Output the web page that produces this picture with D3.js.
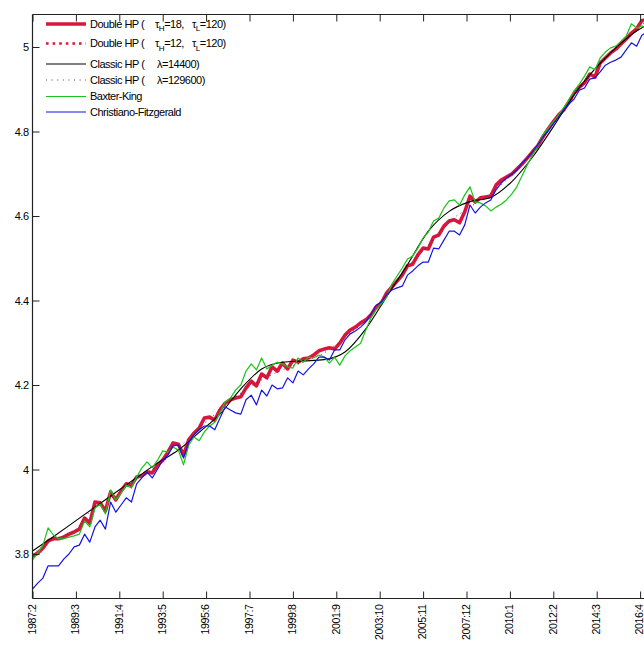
<!DOCTYPE html>
<html>
<head>
<meta charset="utf-8">
<script src="https://cdn.jsdelivr.net/npm/d3@7"></script>
<style>
  body { margin: 0; background: #fff; }
  text { font-family: "Liberation Sans", Arial, sans-serif; }
</style>
</head>
<body>
<svg id="chart" width="644" height="645"></svg>
<script>
// Time axis: month offsets from 1987:2, labelled every 25 months
const tickMonths = [0, 25, 50, 75, 100, 125, 150, 175, 200, 225, 250, 275, 300, 325, 350];
const tickLabels = ["1987:2", "1989:3", "1991:4", "1993:5", "1995:6", "1997:7", "1999:8", "2001:9",
                    "2003:10", "2005:11", "2007:12", "2010:1", "2012:2", "2014:3", "2016:4"];
const yTicks = [3.8, 4, 4.2, 4.4, 4.6, 4.8, 5];
const yTickLabels = ["3.8", "4", "4.2", "4.4", "4.6", "4.8", "5"];

// Quarterly sampling grid (months since 1987:2)
const quarterMonths = d3.range(0, 355, 3);
// Annual sampling grid for the smooth trends
const yearMonths = d3.range(0, 361, 12);

// Double HP (tau_H = 18, tau_L = 120)
const doubleHP18 = [
  3.795, 3.802, 3.814, 3.831, 3.836, 3.836, 3.840, 3.847, 3.852, 3.859,
  3.885, 3.873, 3.923, 3.921, 3.902, 3.947, 3.928, 3.949, 3.966, 3.963,
  3.982, 3.985, 3.994, 3.992, 4.011, 4.022, 4.041, 4.063, 4.060, 4.034,
  4.070, 4.086, 4.098, 4.122, 4.124, 4.117, 4.141, 4.157, 4.165, 4.169,
  4.172, 4.193, 4.209, 4.198, 4.226, 4.217, 4.243, 4.233, 4.252, 4.238,
  4.259, 4.254, 4.262, 4.264, 4.271, 4.281, 4.285, 4.288, 4.285, 4.299,
  4.318, 4.330, 4.337, 4.347, 4.354, 4.366, 4.385, 4.394, 4.418, 4.432,
  4.446, 4.460, 4.482, 4.486, 4.508, 4.524, 4.522, 4.550, 4.555, 4.576,
  4.588, 4.591, 4.584, 4.610, 4.647, 4.633, 4.643, 4.645, 4.647, 4.673,
  4.685, 4.692, 4.699, 4.711, 4.723, 4.737, 4.752, 4.766, 4.787, 4.806,
  4.823, 4.839, 4.851, 4.870, 4.891, 4.905, 4.915, 4.936, 4.929, 4.962,
  4.974, 4.986, 4.995, 5.007, 5.019, 5.033, 5.043, 5.062, 5.066
];

// Double HP (tau_H = 12, tau_L = 120)
const doubleHP12 = [
  3.795, 3.803, 3.815, 3.830, 3.836, 3.837, 3.840, 3.846, 3.852, 3.860,
  3.884, 3.874, 3.921, 3.920, 3.904, 3.945, 3.930, 3.948, 3.965, 3.963,
  3.981, 3.985, 3.994, 3.993, 4.010, 4.022, 4.040, 4.062, 4.060, 4.036,
  4.069, 4.086, 4.098, 4.121, 4.123, 4.118, 4.140, 4.157, 4.165, 4.170,
  4.173, 4.192, 4.208, 4.199, 4.225, 4.218, 4.242, 4.234, 4.251, 4.239,
  4.258, 4.255, 4.262, 4.265, 4.271, 4.280, 4.285, 4.287, 4.286, 4.299,
  4.317, 4.330, 4.337, 4.347, 4.355, 4.366, 4.384, 4.395, 4.417, 4.432,
  4.446, 4.461, 4.481, 4.487, 4.507, 4.523, 4.523, 4.549, 4.556, 4.575,
  4.588, 4.590, 4.585, 4.609, 4.645, 4.634, 4.642, 4.645, 4.648, 4.672,
  4.685, 4.692, 4.700, 4.711, 4.723, 4.737, 4.752, 4.766, 4.786, 4.806,
  4.823, 4.839, 4.851, 4.870, 4.890, 4.905, 4.916, 4.935, 4.930, 4.961,
  4.974, 4.986, 4.996, 5.007, 5.019, 5.032, 5.044, 5.061, 5.066
];

// Baxter-King
const baxterKing = [
  3.786, 3.802, 3.821, 3.862, 3.845, 3.836, 3.836, 3.840, 3.843, 3.847,
  3.878, 3.864, 3.909, 3.918, 3.895, 3.952, 3.928, 3.944, 3.963, 3.956,
  3.982, 4.004, 4.018, 4.004, 4.022, 4.044, 4.041, 4.053, 4.046, 4.011,
  4.058, 4.077, 4.068, 4.089, 4.103, 4.112, 4.134, 4.160, 4.169, 4.188,
  4.200, 4.233, 4.250, 4.236, 4.264, 4.238, 4.247, 4.254, 4.250, 4.243,
  4.240, 4.264, 4.254, 4.266, 4.264, 4.271, 4.266, 4.252, 4.266, 4.247,
  4.269, 4.281, 4.290, 4.299, 4.330, 4.359, 4.378, 4.392, 4.408, 4.439,
  4.458, 4.477, 4.498, 4.505, 4.524, 4.548, 4.562, 4.588, 4.595, 4.619,
  4.636, 4.638, 4.626, 4.650, 4.669, 4.633, 4.631, 4.624, 4.612, 4.621,
  4.628, 4.638, 4.652, 4.669, 4.695, 4.721, 4.744, 4.766, 4.792, 4.808,
  4.823, 4.839, 4.856, 4.875, 4.896, 4.912, 4.931, 4.953, 4.946, 4.974,
  4.988, 4.998, 5.002, 5.014, 5.026, 5.055, 5.045, 5.050, 5.040
];

// Christiano-Fitzgerald
const christianoFitzgerald = [
  3.717, 3.731, 3.743, 3.772, 3.772, 3.772, 3.788, 3.800, 3.817, 3.821,
  3.847, 3.828, 3.864, 3.880, 3.859, 3.923, 3.899, 3.916, 3.933, 3.923,
  3.966, 3.980, 3.994, 3.980, 4.001, 4.022, 4.034, 4.056, 4.058, 4.027,
  4.065, 4.082, 4.094, 4.103, 4.103, 4.094, 4.122, 4.148, 4.141, 4.134,
  4.131, 4.165, 4.176, 4.153, 4.188, 4.174, 4.200, 4.191, 4.193, 4.217,
  4.205, 4.233, 4.224, 4.238, 4.250, 4.266, 4.266, 4.259, 4.283, 4.283,
  4.307, 4.321, 4.328, 4.337, 4.349, 4.368, 4.389, 4.397, 4.413, 4.425,
  4.430, 4.434, 4.460, 4.470, 4.482, 4.491, 4.491, 4.524, 4.522, 4.543,
  4.564, 4.564, 4.555, 4.579, 4.626, 4.607, 4.621, 4.631, 4.638, 4.662,
  4.678, 4.690, 4.699, 4.709, 4.725, 4.737, 4.752, 4.768, 4.787, 4.801,
  4.818, 4.834, 4.851, 4.865, 4.877, 4.898, 4.903, 4.924, 4.927, 4.941,
  4.957, 4.964, 4.969, 4.976, 4.993, 5.010, 5.002, 5.028, 5.035
];

// Classic HP (lambda = 14400), annual samples
const classicHP14400 = [
  3.807, 3.841, 3.876, 3.911, 3.946, 3.981, 4.015, 4.046, 4.088, 4.131,
  4.191, 4.238, 4.254, 4.257, 4.260, 4.278, 4.333, 4.409, 4.485, 4.564,
  4.611, 4.634, 4.644, 4.681, 4.739, 4.811, 4.887, 4.948, 4.998, 5.038,
  5.064
];

// Classic HP (lambda = 129600), annual samples
const classicHP129600 = [
  3.800, 3.834, 3.855, 3.914, 3.938, 3.978, 4.009, 4.051, 4.098, 4.141,
  4.181, 4.212, 4.236, 4.254, 4.276, 4.313, 4.354, 4.418, 4.479, 4.531,
  4.586, 4.621, 4.654, 4.697, 4.749, 4.820, 4.889, 4.946, 4.996, 5.043,
  5.076
];

const series = [
  { name: "dhp18",  months: quarterMonths, values: doubleHP18,  color: "#d8173d", width: 3.6, dash: null, curve: d3.curveLinear },
  { name: "dhp12",  months: quarterMonths, values: doubleHP12,  color: "#d8173d", width: 2.4, dash: "2.4,4", curve: d3.curveLinear },
  { name: "hp14400", months: yearMonths,   values: classicHP14400, color: "#000000", width: 1.1, dash: null, curve: d3.curveMonotoneX },
  { name: "hp129600", months: yearMonths,  values: classicHP129600, color: "#444444", width: 1, dash: "1,4", curve: d3.curveMonotoneX },
  { name: "bk",     months: quarterMonths, values: baxterKing,  color: "#19c419", width: 1.2, dash: null, curve: d3.curveLinear },
  { name: "cf",     months: quarterMonths, values: christianoFitzgerald, color: "#1414e6", width: 1.2, dash: null, curve: d3.curveLinear }
];

const W = 644, H = 645;
const plotLeft = 32.5, plotTop = 14.5, plotBottom = 598.5;

const svg = d3.select("#chart");
const x = d3.scaleLinear().domain([0, 350]).range([plotLeft, 640.1]);
const y = d3.scaleLinear().domain([3.8, 5]).range([554, 47]);

svg.append("defs").append("clipPath").attr("id", "plotClip")
  .append("rect").attr("x", plotLeft).attr("y", plotTop)
  .attr("width", W - plotLeft + 20).attr("height", plotBottom - plotTop);

// Series lines
const plot = svg.append("g").attr("clip-path", "url(#plotClip)");
series.forEach(s => {
  const line = d3.line()
    .x((d, i) => x(s.months[i]))
    .y(d => y(d))
    .curve(s.curve);
  plot.append("path")
    .attr("d", line(s.values))
    .attr("fill", "none")
    .attr("stroke", s.color)
    .attr("stroke-width", s.width)
    .attr("stroke-linejoin", "round")
    .attr("stroke-dasharray", s.dash);
});

// Axes (ticks pointing into the plot)
const fontFamily = '"Liberation Sans", Arial, sans-serif';

const xAxis = svg.append("g").attr("transform", `translate(0,${plotBottom})`)
  .call(d3.axisBottom(x).tickValues(tickMonths).tickSizeInner(-7).tickSizeOuter(0)
    .tickFormat((d, i) => tickLabels[i]));
xAxis.select(".domain").remove();
xAxis.selectAll("line").attr("stroke", "#222");
xAxis.selectAll("text")
  .attr("transform", "rotate(-90)")
  .attr("x", -6).attr("y", 0).attr("dy", "0.26em")
  .attr("text-anchor", "end")
  .attr("font-size", 10.6).attr("font-family", fontFamily)
  .attr("letter-spacing", "-0.4px").attr("fill", "#000");

const topAxis = svg.append("g").attr("transform", `translate(0,${plotTop})`)
  .call(d3.axisTop(x).tickValues(tickMonths).tickSizeInner(-7).tickSizeOuter(0).tickFormat(""));
topAxis.select(".domain").remove();
topAxis.selectAll("line").attr("stroke", "#222");

const yAxis = svg.append("g").attr("transform", `translate(${plotLeft},0)`)
  .call(d3.axisLeft(y).tickValues(yTicks).tickSizeInner(-7).tickSizeOuter(0).tickPadding(4)
    .tickFormat((d, i) => yTickLabels[i]));
yAxis.select(".domain").remove();
yAxis.selectAll("line").attr("stroke", "#222");
yAxis.selectAll("text").attr("font-size", 11).attr("font-family", fontFamily)
  .attr("letter-spacing", "-0.5px").attr("fill", "#000");

// Frame
const frame = svg.append("g").attr("stroke", "#222").attr("stroke-width", 1.2);
frame.append("line").attr("x1", plotLeft).attr("x2", plotLeft).attr("y1", plotTop).attr("y2", plotBottom);
frame.append("line").attr("x1", plotLeft).attr("x2", W).attr("y1", plotBottom).attr("y2", plotBottom);
frame.append("line").attr("x1", plotLeft).attr("x2", W).attr("y1", plotTop).attr("y2", plotTop);

// Legend
const legendRows = [
  { s: 0, y: 24,  parts: [["Double HP (", 90], ["τ", 155, "H", "=18,"], ["τ", 192, "L", "=120)"]] },
  { s: 1, y: 43.5, parts: [["Double HP (", 90], ["τ", 155, "H", "=12,"], ["τ", 192, "L", "=120)"]] },
  { s: 2, y: 64,  parts: [["Classic HP (", 90], ["λ=14400)", 157]] },
  { s: 3, y: 80,  parts: [["Classic HP (", 90], ["λ=129600)", 157]] },
  { s: 4, y: 96.5, parts: [["Baxter-King", 90]] },
  { s: 5, y: 112, parts: [["Christiano-Fitzgerald", 90]] }
];
const legend = svg.append("g");
legendRows.forEach(r => {
  const s = series[r.s];
  legend.append("line")
    .attr("x1", 46).attr("x2", 86).attr("y1", r.y).attr("y2", r.y)
    .attr("stroke", s.color)
    .attr("stroke-width", r.s === 3 ? 1 : s.width)
    .attr("stroke-dasharray", r.s === 3 ? "1,4.6" : (r.s === 1 ? "2.6,4" : s.dash));
  r.parts.forEach(p => {
    const t = legend.append("text")
      .attr("x", p[1]).attr("y", r.y).attr("dy", "0.35em")
      .attr("font-size", 11).attr("font-family", fontFamily)
      .attr("letter-spacing", "-0.5px").attr("fill", "#000");
    t.append("tspan").text(p[0]);
    if (p.length > 2) {
      t.append("tspan").attr("dy", 3.5).attr("font-size", 8).text(p[2]);
      t.append("tspan").attr("dy", -3.5).text(p[3]);
    }
  });
});
</script>
</body>
</html>
